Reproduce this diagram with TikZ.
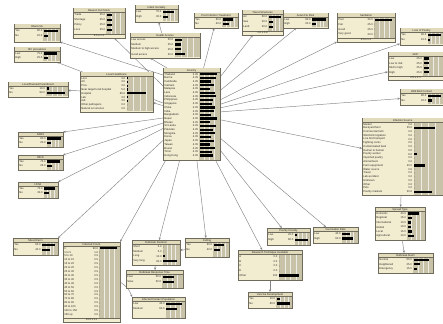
\documentclass[tikz,border=0pt]{standalone}
\usepackage{fontspec}
\setmainfont{Liberation Sans}
\usetikzlibrary{arrows.meta}
\pgfdeclarelayer{bg}
\pgfsetlayers{bg,main}
\definecolor{boxc}{HTML}{F2EDD0}
\definecolor{titc}{HTML}{E2DBBB}
\definecolor{barc}{HTML}{C8C2A8}
\definecolor{edgc}{HTML}{858585}
\definecolor{bordc}{HTML}{6E6B5C}
\tikzset{
  bnbox/.style={draw=bordc, fill=boxc, line width=0.55pt, inner sep=0pt, outer sep=0pt},
  tt/.style={font=\fontsize{2.7}{3}\selectfont, inner sep=0pt, text=black!85},
  edge/.style={draw=edgc, line width=0.45pt, -{Stealth[length=2.6pt,width=2.2pt]}},
}
% #1 name, #2 x, #3 y, #4 w, #5 h, #6 row height, #7 title, #8 rows lab/val/bar
\newcommand\bn[8]{%
  \node[bnbox, minimum width=#4pt, minimum height=#5pt, anchor=north west] (#1) at (#2,#3) {};
  \fill[titc] (#2+0.5,#3+0.5) rectangle (#2+#4-0.5,#3+4.3);
  \draw[bordc, line width=0.25pt] (#2,#3+4.3) -- (#2+#4,#3+4.3);
  \node[tt] at (#2+#4/2,#3+2.4) {#7};
  \fill[barc] (#2+0.64*#4,#3+4.6) rectangle (#2+#4-0.5,#3+#5-0.5);
  \foreach \q in {0.25,0.5,0.75}{
    \draw[white!70!barc, line width=0.2pt] (#2+0.64*#4+\q*0.36*#4-\q*0.5,#3+4.6) -- (#2+0.64*#4+\q*0.36*#4-\q*0.5,#3+#5-0.5);
  }
  \foreach \lab/\val/\bv [count=\i] in {#8} {
    \pgfmathsetmacro\yc{#3+4.3+(\i-0.5)*#6}
    \node[tt,anchor=west] at (#2+1.2,\yc) {\lab};
    \node[tt,anchor=east] at (#2+0.62*#4,\yc) {\val};
    \fill[black] (#2+0.64*#4+0.5,\yc-1.1) rectangle (#2+0.64*#4+0.5+\bv/100*0.36*#4-\bv/100*1.5,\yc+1.1);
  }
}
% footer: #1 x, #2 y, #3 w, #4 h, #5 text
\newcommand\bnfoot[5]{%
  \fill[boxc] (#1+0.5,#2+#4-4) rectangle (#1+#3-0.5,#2+#4-0.5);
  \draw[bordc, line width=0.25pt] (#1,#2+#4-4) -- (#1+#3,#2+#4-4);
  \node[tt] at (#1+#3/2,#2+#4-2.2) {#5};
}
\begin{document}
\begin{tikzpicture}[x=1pt,y=-1pt]
\useasboundingbox (0,0) rectangle (443,323);

% central node
\bn{C}{163}{68}{57}{92}{3.7}{Country}{Thailand/4.35/90, Burma/4.35/85, Cambodia/4.35/60, Vietnam/4.35/75, Malaysia/4.35/55, Laos/4.35/80, Indonesia/4.35/85, Philippines/4.35/70, Singapore/4.35/65, China/4.35/80, India/4.35/75, Bangladesh/4.35/60, Nepal/4.35/90, Bhutan/4.35/55, Sri Lanka/4.35/85, Pakistan/4.35/70, Mongolia/4.35/80, Korea/4.35/60, Japan/4.35/75, Taiwan/4.35/55, Brunei/4.35/80, Timor/4.35/65, Hong Kong/4.35/70}

% top left
\bn{b1}{14}{24}{46}{18}{5}{Infant risk}{Yes/80.0/92, No/20.0/25}
\bn{b2}{14}{47}{46}{15}{4.5}{HIV prevalence}{Low/75.0/85, High/25.0/30}
\bn{b3}{8}{82}{60}{15}{4.5}{Loss/Planned Parenthood}{Yes/10.0/12, No/90.0/90}
\bn{b4}{73}{8}{52}{30}{5}{Reason Full Stock}{Trade/25.0/30, Shortage/25.0/30, Policy/25.0/30, Loss/25.0/30}
\bnfoot{73}{8}{52}{30}{2.5 ± 1.1}
\bn{b5}{135}{5}{43}{17}{5}{Infant mortality}{Low/70.0/80, High/30.0/35}
\bn{b6}{130}{33}{70}{25}{4.8}{Health Access}{Low access/30.0/30, Medium/25.0/25, Medium to high access/25.0/25, Good access/20.0/40}
\bn{LH}{80}{72}{73}{40}{3.8}{Local Healthcare}{Lost/3.0/3, Alt/3.0/3, Prov/3.0/3, Near target local hospital/5.0/5, Hospital/80.0/75, Lab/3.0/3, Aid/3.0/3, Other pathogens/0.0/0, Natural occurrence/0.0/0}

% top
\bn{b9}{194}{13}{44}{15}{4.5}{Post Infection Treatment}{Yes/60.0/70, No/40.0/45}
\bn{b10}{242}{10}{41}{25}{5}{Travel Structures}{Air/60.0/90, Sea/20.0/30, Land/20.0/30}
\bnfoot{242}{10}{41}{25}{1.6 ± 0.8}
\bn{b11}{283}{13}{45}{15}{4.5}{Avian Flu Risk}{Low/80.0/92, High/20.0/25}
\bn{b12}{337}{13}{58}{29}{4.8}{Sanitation}{Poor/30.0/90, Fair/25.0/0, Good/25.0/0, Very good/20.0/0}
\bnfoot{337}{13}{58}{29}{2.4 ± 1.1}

% right
\bn{b13}{400}{28}{43}{17}{5}{Loss of Poultry}{Yes/90.0/95, No/10.0/15}
\bn{b14}{388}{52}{55}{28}{4.6}{GDP}{Low/25.0/30, Low to mid/25.0/30, Mid to high/25.0/30, High/25.0/30}
\bnfoot{388}{52}{55}{28}{2.5 ± 1.1}
\bn{b15}{400}{89}{43}{16}{4.8}{Wild Bird Contact}{Yes/80.0/90, No/20.0/25}
\bn{b17}{362}{118}{81}{77}{3.75}{Infection Source}{Market/0.0/0, Backyard farm/35.0/75, Commercial farm/0.0/0, Wild bird migration/0.0/0, Live bird transport/0.0/0, Fighting cocks/0.0/0, Contaminated feed/0.0/0, Human to human/0.0/0, Poultry worker/8.0/10, Imported poultry/0.0/0, Animal feed/0.0/0, Farm equipment/20.0/40, Water source/0.0/0, Travel/0.0/0, Lab accident/0.0/0, Unknown/0.0/0, Other/0.0/0, Pets/0.0/0, Poultry markets/30.0/65}
\bn{b18}{375}{207}{50}{33}{4.5}{Spread Type}{Domestic/40.0/70, Regional/15.0/30, International/10.0/20, Global/10.0/20, Local/15.0/25, Agricultural/10.0/40}
\bn{b19}{378}{253}{55}{20}{4.7}{Outbreak Alarm}{Normal/60.0/85, Heightened/25.0/35, Emergency/15.0/20}

% left middle
\bn{b16a}{18}{132}{45}{15}{4.5}{SARS}{Yes/80.0/92, No/20.0/25}
\bn{b16b}{18}{155}{45}{15}{4.5}{H5N1}{Yes/75.0/85, No/25.0/30}
\bn{b16c}{18}{182}{40}{16}{4.5}{H1N1}{Yes/70.0/85, No/30.0/35}

% bottom
\bn{b24}{13}{238}{45}{17}{5}{Mixed Farm}{Yes/60.0/85, No/40.0/55}
\bn{b25}{63}{242}{57}{80}{3.9}{Infected Count}{0/90.0/92, 1 to 5/1.0/0, 5 to 10/0.5/0, 10 to 15/0.5/0, 15 to 20/0.5/0, 20 to 25/0.5/0, 25 to 30/0.5/0, 30 to 35/0.5/0, 35 to 40/0.5/0, 40 to 45/0.5/0, 45 to 50/0.5/0, 50 to 60/0.5/0, 60 to 70/0.5/0, 70 to 80/0.5/0, 80 to 90/0.5/0, 90 to 100/0.5/0, 100 to 150/0.5/0, 150 up/0.5/0}
\bnfoot{63}{242}{57}{80}{13.5 ± 11}
\bn{b26}{132}{240}{48}{25}{4.8}{Outbreak Duration}{Short/5.0/0, Medium/5.0/0, Long/10.0/12, Very long/80.0/90}
\bn{b27}{126}{270}{57}{18}{5}{Outbreak Response Time}{Fast/50.0/60, Slow/50.0/60}
\bn{b28}{132}{297}{53}{21}{5}{Infected Contact Population}{Low/40.0/90, Medium/60.0/60}
\bn{b29}{185}{238}{44}{19}{5}{Culling}{Yes/60.0/70, No/40.0/45}
\bn{b20}{267}{228}{43}{17}{5}{Poultry Density}{Low/20.0/15, High/80.0/90}
\bn{b21}{313}{227}{45}{16}{4.8}{Vaccination Rate}{Low/40.0/50, High/60.0/70}
\bn{b22}{238}{250}{64}{30}{4.7}{Research Technique Available}{A/0.0/0, B/0.0/0, C/0.0/0, D/0.0/0, Other/100/90}
\bn{b23}{248}{292}{44}{16}{4.8}{Vaccine Development}{Yes/20.0/25, No/80.0/90}

\begin{pgfonlayer}{bg}
  \fill[white] (0,0) rectangle (443,323);
  \draw[edge] ([yshift=-7pt]C.north west) -- (b1.south east);
  \draw[edge] (C) -- (b2);
  \draw[edge] (LH) -- (b3);
  \draw[edge] (C) -- (LH);
  \draw[edge] (C) -- (b4);
  \draw[edge] ([xshift=4pt]C.north west) -- ([xshift=20pt]b6.south west);
  \draw[edge] (b6) -- (b5);
  \draw[edge] (C) -- (b9);
  \draw[edge] (C) -- (b10);
  \draw[edge] (C) -- (b11);
  \draw[edge] (C) -- (b12);
  \draw[edge] (C) -- (b13);
  \draw[edge] (C) -- (b14);
  \draw[edge] (C) -- (b15);
  \draw[edge] (C) -- (b17);
  \draw[edge] (C) -- (b16a.north east);
  \draw[edge] (C) -- (b16b.north east);
  \draw[edge] (C) -- (b16c.north east);
  \draw[edge] (C) -- (b24.north east);
  \draw[edge] (C) -- (b25.north east);
  \draw[edge] (C) -- (b26);
  \draw[edge] (C) -- (b29);
  \draw[edge] (C) -- (b20);
  \draw[edge] (C) -- (b21);
  \draw[edge] (C) -- (b22);
  \draw[edge] (b22) -- (b23);
  \draw[edge] (b17) -- (b18);
  \draw[edge] (b18) -- (b19);
  \draw[edge] (b26) -- (b27);
  \draw[edge] (b29) -- (b26);
  \draw[edge] (b25.east) to[bend left=20] (b28.north west);
\end{pgfonlayer}
\end{tikzpicture}
\end{document}
